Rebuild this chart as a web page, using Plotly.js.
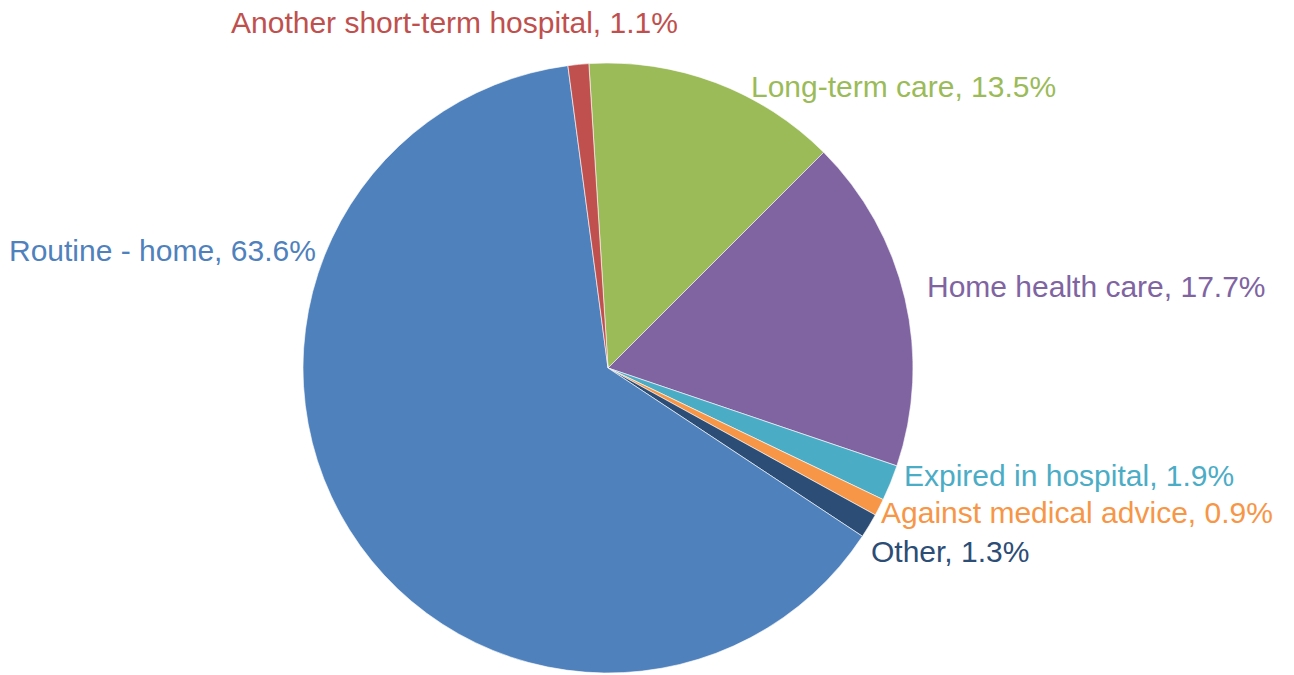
<!DOCTYPE html>
<html>
<head>
<meta charset="utf-8">
<script src="https://cdn.plot.ly/plotly-3.0.1.min.js"></script>
<style>html,body{margin:0;padding:0;background:#fff;}#chart{width:1294px;height:675px;}</style>
</head>
<body>
<div id="chart"></div>
<script>
const categories = ["Long-term care", "Home health care", "Expired in hospital", "Against medical advice", "Other", "Routine - home", "Another short-term hospital"];
const shares = [13.5, 17.7, 1.9, 0.9, 1.3, 63.6, 1.1];
const sliceColors = ["#9BBB59", "#8064A2", "#4BACC6", "#F79646", "#2C4D75", "#4F81BD", "#C0504D"];

const W = 1294, H = 675;
// label anchor positions (pixels): left edge x, vertical centre y
const labelPos = [[749, 87], [925, 287], [902, 476], [879, 512], [869, 551], [7, 250], [229, 22]];

const trace = {
  type: "pie",
  labels: categories,
  values: shares,
  sort: false,
  direction: "clockwise",
  rotation: -3.6,
  textinfo: "none",
  hoverinfo: "none",
  marker: {colors: sliceColors, line: {color: "rgba(255,255,255,0.6)", width: 1}},
  domain: {x: [303 / W, 913 / W], y: [2 / H, 612 / H]},
  showlegend: false
};

const annotations = categories.map((c, i) => ({
  text: c + ", " + shares[i].toFixed(1) + "%",
  x: labelPos[i][0] / W,
  y: 1 - labelPos[i][1] / H,
  xref: "paper", yref: "paper",
  xanchor: "left", yanchor: "middle",
  showarrow: false,
  font: {family: "Liberation Sans, Arial, sans-serif", size: 30, color: sliceColors[i]}
}));

const layout = {
  width: W, height: H,
  margin: {l: 0, r: 0, t: 0, b: 0},
  paper_bgcolor: "#fff",
  annotations: annotations
};

Plotly.newPlot("chart", [trace], layout, {displayModeBar: false, staticPlot: true});
</script>
</body>
</html>
